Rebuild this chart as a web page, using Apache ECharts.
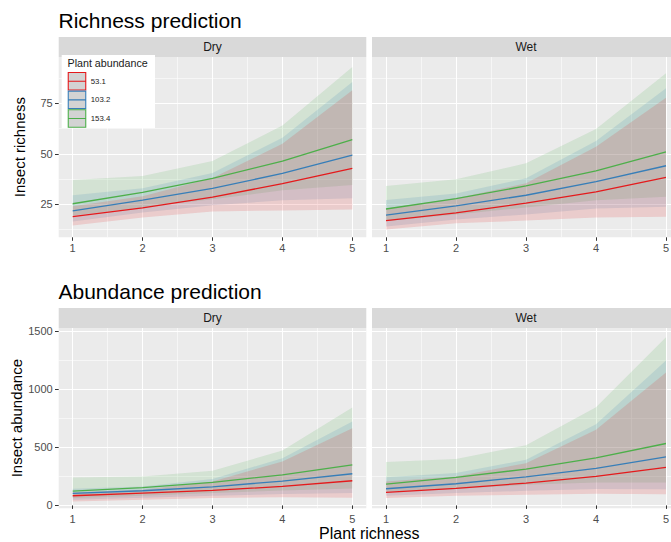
<!DOCTYPE html>
<html><head><meta charset="utf-8">
<script src="https://cdn.jsdelivr.net/npm/echarts@6/dist/echarts.min.js"></script>
<style>html,body{margin:0;padding:0;background:#fff}#c{width:671px;height:542px}</style>
</head><body><div id="c"></div>
<script>
// ---- data ----
const plantRichness = [1, 2, 3, 4, 5];
const groups = ['53.1', '103.2', '153.4'];
const facets = ['Dry', 'Wet'];
const xTicks = [1, 2, 3, 4, 5];
const xMinor = [1.5, 2.5, 3.5, 4.5];
const richTicks = [25, 50, 75];
const richMinor = [12.5, 37.5, 62.5, 87.5];
const abunTicks = [0, 500, 1000, 1500];
const abunMinor = [250, 750, 1250];

// fitted values / lower / upper, one row per plant abundance group (53.1, 103.2, 153.4)
const richDryFit  = [[18.9, 23.3, 28.6, 35.2, 42.8], [21.8, 27.1, 32.9, 40.3, 49.4], [25.3, 30.9, 37.9, 46.4, 57.0]];
const richDryLow  = [[14.5, 18.5, 21.5, 22, 22.5], [16.5, 21, 24.5, 27, 28], [19.5, 23.5, 27.5, 32, 34.6]];
const richDryHigh = [[24, 29, 38, 55, 81.5], [29.5, 33, 40.5, 58, 85.5], [37, 39, 46.5, 64, 93]];
const richWetFit  = [[16.9, 20.8, 25.6, 31.2, 38.4], [19.7, 24.2, 29.5, 36.2, 44.1], [22.7, 27.8, 34.1, 41.6, 51.0]];
const richWetLow  = [[12.6, 15.6, 17, 18.5, 18.9], [14, 17.5, 20, 23, 23.8], [16.8, 20, 23.5, 27, 28.8]];
const richWetHigh = [[23, 28, 35.4, 53.5, 77.8], [27.1, 30.4, 37.9, 56.3, 82.4], [34.1, 37.4, 45.3, 62.3, 89.9]];
const abunDryFit  = [[83, 106, 129, 163, 212], [103, 126, 160, 209, 272], [123, 152, 197, 263, 349]];
const abunDryLow  = [[34, 49, 63, 70, 66], [49, 66, 83, 97, 106], [63, 83, 106, 129, 146]];
const abunDryHigh = [[114, 134, 206, 378, 664], [143, 163, 226, 406, 721], [240, 249, 298, 472, 841]];
const abunWetFit  = [[112, 146, 192, 249, 326], [143, 186, 246, 318, 418], [183, 240, 312, 409, 532]];
const abunWetLow  = [[63, 83, 92, 100, 95], [83, 106, 125, 140, 138], [120, 140, 177, 197, 197]];
const abunWetHigh = [[206, 249, 363, 650, 1142], [243, 278, 392, 698, 1245], [372, 398, 518, 844, 1445]];

// ---- styling ----
const colors = ['#E41A1C', '#377EB8', '#4DAF4A'];
const bandFills = ['rgba(228,26,28,0.15)', 'rgba(55,126,184,0.15)', 'rgba(77,175,74,0.15)'];
const FONT = 'Liberation Sans, Arial, sans-serif';
const panelBg = '#EBEBEB';
const stripBg = '#D9D9D9';

const grids = [
  {left: 58.7, top: 57, width: 307.6, height: 180.3},
  {left: 372, top: 57, width: 308, height: 180.3},
  {left: 58.7, top: 328, width: 307.6, height: 180.3},
  {left: 372, top: 328, width: 308, height: 180.3}
];
const panels = [
  {fit: richDryFit, low: richDryLow, high: richDryHigh, ymin: 8.7, ymax: 97.9, ticks: richTicks, minor: richMinor, name: 'Insect richness'},
  {fit: richWetFit, low: richWetLow, high: richWetHigh, ymin: 8.7, ymax: 97.9, ticks: richTicks, minor: richMinor, name: ''},
  {fit: abunDryFit, low: abunDryLow, high: abunDryHigh, ymin: -25, ymax: 1525, ticks: abunTicks, minor: abunMinor, name: 'Insect abundance'},
  {fit: abunWetFit, low: abunWetLow, high: abunWetHigh, ymin: -25, ymax: 1525, ticks: abunTicks, minor: abunMinor, name: ''}
];

function bandRenderer(fill) {
  return function (params, api) {
    if (params.dataIndex !== 0) return null;
    const n = plantRichness.length;
    const up = [], lo = [];
    for (let i = 0; i < n; i++) {
      up.push(api.coord([api.value(0, i), api.value(2, i)]));
      lo.push(api.coord([api.value(0, i), api.value(1, i)]));
    }
    return {type: 'polygon', shape: {points: up.concat(lo.reverse())}, style: {fill: fill, stroke: null}};
  };
}

const xAxis = [], yAxis = [], series = [];
panels.forEach((p, g) => {
  const isLeft = g % 2 === 0;
  xAxis.push({
    type: 'value', gridIndex: g, min: 0.8, max: 5.2,
    axisLine: {show: false},
    axisTick: {show: true, customValues: xTicks, length: 3.5, lineStyle: {color: '#333333', width: 1}},
    axisLabel: {customValues: xTicks, color: '#4D4D4D', fontSize: 11, margin: 5, fontFamily: FONT, formatter: v => String(v)},
    splitLine: {show: true, lineStyle: {color: '#FFFFFF', width: 1.1}}
  });
  xAxis.push({
    type: 'value', gridIndex: g, min: 0.8, max: 5.2, position: 'bottom',
    axisLine: {show: false},
    axisTick: {show: false, customValues: xMinor},
    axisLabel: {show: false, customValues: xMinor},
    splitLine: {show: true, lineStyle: {color: '#FFFFFF', width: 0.55}}
  });
  yAxis.push({
    type: 'value', gridIndex: g, min: p.ymin, max: p.ymax,
    axisLine: {show: false},
    axisTick: {show: isLeft, customValues: p.ticks, length: 3.7, lineStyle: {color: '#333333', width: 1}},
    axisLabel: {show: isLeft, customValues: p.ticks, color: '#4D4D4D', fontSize: 11, margin: 6, fontFamily: FONT, formatter: v => String(v)},
    splitLine: {show: true, lineStyle: {color: '#FFFFFF', width: 1.1}},
    name: p.name, nameLocation: 'middle', nameGap: 32,
    nameTextStyle: {fontSize: 15, color: '#000000', fontFamily: FONT}
  });
  yAxis.push({
    type: 'value', gridIndex: g, min: p.ymin, max: p.ymax, position: 'left',
    axisLine: {show: false},
    axisTick: {show: false, customValues: p.minor},
    axisLabel: {show: false, customValues: p.minor},
    splitLine: {show: true, lineStyle: {color: '#FFFFFF', width: 0.55}}
  });
  // ribbons (green first, red on top)
  [2, 1, 0].forEach(k => {
    series.push({
      type: 'custom', name: 'band' + g + k, xAxisIndex: 2 * g, yAxisIndex: 2 * g,
      silent: true, z: 2, clip: true,
      encode: {x: 0, y: [1, 2]},
      renderItem: bandRenderer(bandFills[k]),
      data: plantRichness.map((x, i) => [x, p.low[k][i], p.high[k][i]])
    });
  });
  [0, 1, 2].forEach(k => {
    series.push({
      type: 'line', name: groups[k], xAxisIndex: 2 * g, yAxisIndex: 2 * g,
      symbol: 'none', silent: true, z: 3,
      lineStyle: {color: colors[k], width: 1.3},
      itemStyle: {color: colors[k]},
      data: plantRichness.map((x, i) => [x, p.fit[k][i]])
    });
  });
});

const graphics = [];
// strips
grids.forEach((gr, g) => {
  const top = gr.top - 20;
  graphics.push({type: 'rect', z: 1, shape: {x: gr.left, y: top, width: gr.width, height: 20}, style: {fill: stripBg}});
  graphics.push({type: 'text', z: 2, style: {x: gr.left + gr.width / 2, y: top + 10.3, text: facets[g % 2], fill: '#1A1A1A', font: '12px ' + FONT, align: 'center', verticalAlign: 'middle'}});
});
// titles
graphics.push({type: 'text', z: 2, style: {x: 58.5, y: 20.3, text: 'Richness prediction', fill: '#000', font: '21px ' + FONT, align: 'left', verticalAlign: 'middle'}});
graphics.push({type: 'text', z: 2, style: {x: 58.5, y: 291.3, text: 'Abundance prediction', fill: '#000', font: '21px ' + FONT, align: 'left', verticalAlign: 'middle'}});
graphics.push({type: 'text', z: 2, style: {x: 369.3, y: 533.5, text: 'Plant richness', fill: '#000', font: '16px ' + FONT, align: 'center', verticalAlign: 'middle'}});
// legend box + title
graphics.push({type: 'rect', z: 50, shape: {x: 61.7, y: 55, width: 93.3, height: 73}, style: {fill: '#FFFFFF'}});
graphics.push({type: 'text', z: 51, style: {x: 67.5, y: 63.3, text: 'Plant abundance', fill: '#1A1A1A', font: '10.7px ' + FONT, align: 'left', verticalAlign: 'middle'}});

const option = {
  animation: false,
  backgroundColor: '#FFFFFF',
  grid: grids.map(gr => Object.assign({show: true, backgroundColor: panelBg, borderWidth: 0, containLabel: false, outerBoundsMode: 'none'}, gr)),
  xAxis, yAxis, series,
  graphic: graphics,
  legend: {
    z: 60, left: 67.7, top: 72, orient: 'vertical', padding: 0,
    itemWidth: 17.5, itemHeight: 17.5, itemGap: 0,
    textStyle: {fontSize: 7.8, color: '#1A1A1A', fontFamily: FONT},
    data: groups.map((n, k) => ({
      name: n,
      icon: 'path://M0,0L18,0L18,18L0,18Z M0,9L18,9',
      itemStyle: {color: '#D3D3D3', borderColor: colors[k], borderWidth: 1.1}
    }))
  }
};
const chart = echarts.init(document.getElementById('c'), null, {renderer: 'svg'});
chart.setOption(option);
</script>
</body></html>
